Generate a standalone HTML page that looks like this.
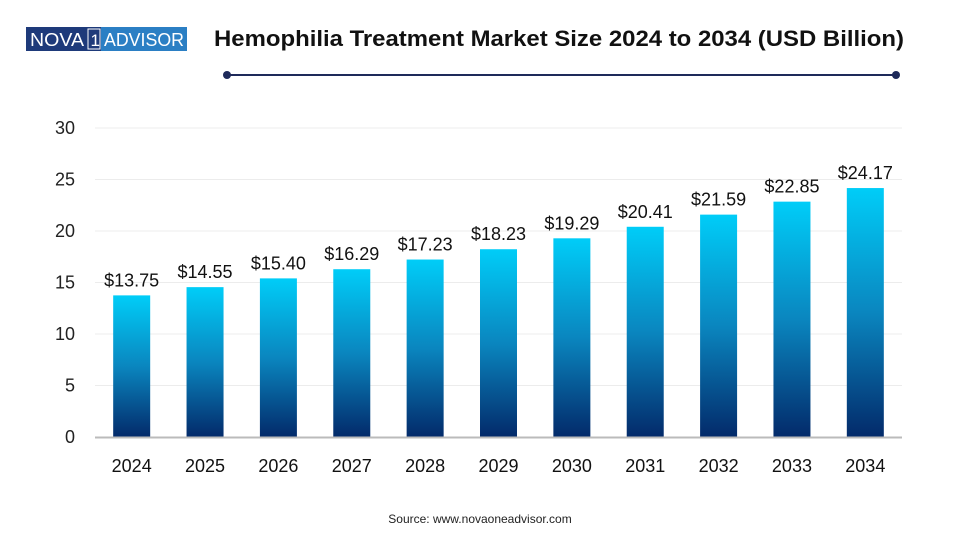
<!DOCTYPE html>
<html><head><meta charset="utf-8"><style>
body{margin:0;background:#fff;font-family:"Liberation Sans",sans-serif}
svg{display:block}
</style></head><body>
<svg width="960" height="540" id="c">
<defs><linearGradient id="g" x1="0" y1="0" x2="0" y2="1">
<stop offset="0" stop-color="#00cdf8"/><stop offset="0.5" stop-color="#0a86bf"/><stop offset="1" stop-color="#032a6a"/></linearGradient></defs>
<g>
<rect x="26" y="27" width="75" height="24" fill="#1e3a7a"/>
<rect x="101" y="27" width="86" height="24" fill="#2b7fc4"/>
<text x="30" y="46" font-size="18" fill="#fff" textLength="54" lengthAdjust="spacingAndGlyphs">NOVA</text>
<rect x="88" y="29" width="12" height="20" fill="none" stroke="#fff" stroke-width="1"/>
<text x="90.5" y="46" font-size="17" fill="#fff">1</text>
<text x="104" y="46" font-size="18" fill="#fff" textLength="80" lengthAdjust="spacingAndGlyphs">ADVISOR</text>
</g>
<text x="214" y="46" font-size="22" font-weight="bold" fill="#111" textLength="690" lengthAdjust="spacingAndGlyphs">Hemophilia Treatment Market Size 2024 to 2034 (USD Billion)</text>
<line x1="227" y1="75" x2="896" y2="75" stroke="#1e2a5a" stroke-width="2"/>
<circle cx="227" cy="75" r="4" fill="#1e2a5a"/><circle cx="896" cy="75" r="4" fill="#1e2a5a"/>
<g id="plot"></g>
<text x="480" y="523" font-size="12" fill="#222" text-anchor="middle">Source: www.novaoneadvisor.com</text>
</svg>
<script>
const categories=["2024","2025","2026","2027","2028","2029","2030","2031","2032","2033","2034"];
const values=[13.75,14.55,15.40,16.29,17.23,18.23,19.29,20.41,21.59,22.85,24.17];
const labels=["$13.75","$14.55","$15.40","$16.29","$17.23","$18.23","$19.29","$20.41","$21.59","$22.85","$24.17"];
const ticks=[0,5,10,15,20,25,30];
const NS="http://www.w3.org/2000/svg",p=document.getElementById('plot');
const y0=437,yTop=128,yMax=30,x0=95,x1=902;
const y=v=>y0-(v/yMax)*(y0-yTop);
const step=(x1-x0)/categories.length;
const xc=i=>x0+step*(i+0.5);
function mk(t,a,txt){const e=document.createElementNS(NS,t);for(const k in a)e.setAttribute(k,a[k]);if(txt!=null)e.textContent=txt;p.appendChild(e);return e;}
ticks.forEach(t=>{
 if(t>0){const l=mk('line',{x1:x0,x2:x1,y1:y(t),y2:y(t),stroke:'#ececec'});
 
 }
 const tx=mk('text',{x:75,y:y(t)+6,'font-size':18,fill:'#222','text-anchor':'end'},t);
 
 
});
categories.forEach((c,i)=>{
 const w=37,b=mk('rect',{x:xc(i)-w/2,y:y(values[i]),width:w,height:y0-y(values[i]),fill:'url(#g)'});
 
 
 const v=mk('text',{x:xc(i),y:y(values[i])-9,'font-size':18,fill:'#111','text-anchor':'middle'},labels[i]);
 
 
 const xl=mk('text',{x:xc(i),y:472,'font-size':18,fill:'#111','text-anchor':'middle'},c);
 
 
});
const ax=mk('line',{x1:x0,x2:x1,y1:y0+0.5,y2:y0+0.5,stroke:'#bbb','stroke-width':2});


</script>
</body></html>
